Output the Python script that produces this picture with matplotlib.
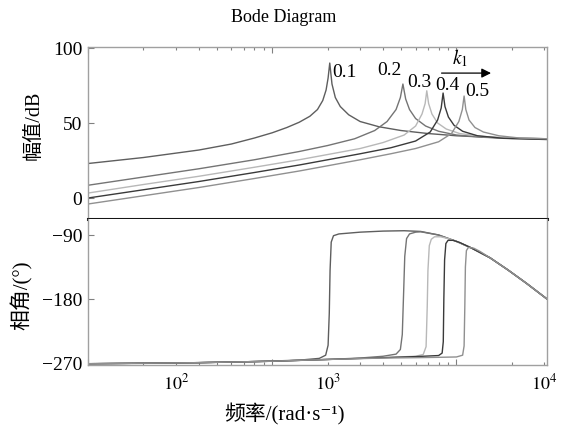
import matplotlib
matplotlib.use("Agg")
import matplotlib.pyplot as plt
from matplotlib.ticker import FixedLocator, NullFormatter, NullLocator

plt.rcParams['font.family'] = ['Liberation Serif', 'Noto Sans CJK SC', 'DejaVu Sans']
plt.rcParams['mathtext.fontset'] = 'stix'
plt.rcParams['axes.unicode_minus'] = True

# ---------------- data ----------------
k_labels = ["0.1", "0.2", "0.3", "0.4", "0.5"]

mag_f_01 = [50, 100, 200, 300, 400, 500, 600, 700, 800, 880, 940, 980, 1005, 1026, 1055, 1100, 1170, 1300, 1500, 1900, 2500, 3500, 5000, 8000, 15500]
mag_v_01 = [23, 27, 32, 36, 40, 43.5, 47, 50.5, 54.5, 59, 65, 72, 80, 90, 76, 67, 61, 55.5, 51, 47.5, 45, 43, 41.5, 40.3, 39.5]

mag_f_02 = [50, 100, 200, 400, 700, 1000, 1400, 1800, 2100, 2350, 2480, 2560, 2650, 2780, 3000, 3400, 4000, 5000, 7000, 10000, 15500]
mag_v_02 = [8.5, 14, 19.5, 25.5, 31, 35, 39.5, 45, 51, 59, 67, 76, 66, 59, 53, 48, 44.5, 42, 40.5, 39.7, 39.2]

mag_f_03 = [50, 100, 200, 400, 700, 1000, 1500, 2000, 2600, 3000, 3250, 3380, 3450, 3530, 3680, 3950, 4400, 5200, 7000, 10000, 15500]
mag_v_03 = [3.3, 9, 14.5, 20.5, 25.5, 29, 33, 37, 42, 48, 56, 63, 71.5, 63, 56, 50, 46, 43, 41, 40, 39.5]

mag_f_04 = [50, 100, 200, 400, 700, 1000, 1500, 2200, 3000, 3600, 3950, 4130, 4230, 4330, 4520, 4850, 5400, 6500, 9000, 15500]
mag_v_04 = [0, 5.5, 11, 17, 22, 25.5, 29.5, 33.5, 38, 44, 52, 60, 70, 61, 54, 48.5, 44.5, 41.5, 39.8, 39]

mag_f_05 = [50, 100, 200, 400, 700, 1000, 1500, 2200, 3000, 4000, 4700, 5150, 5380, 5500, 5620, 5850, 6300, 7000, 8500, 11000, 15500]
mag_v_05 = [-4, 1.5, 7, 13, 18, 21.5, 25.5, 29.5, 33, 37.5, 43, 51, 59, 68, 59, 52, 47, 44, 41.5, 40, 39.5]

ph_f_01 = [50, 100, 200, 400, 700, 900, 975, 1005, 1020, 1030, 1045, 1075, 1150, 1500, 2000, 2600, 3200, 4000, 5000, 6000, 7600, 9500, 12000, 15500]
ph_v_01 = [-271, -270.5, -269.5, -268, -266, -263.5, -259, -245, -200, -140, -100, -91, -88.5, -86, -84.5, -84, -85, -90, -99, -108, -122, -139, -158, -180]

ph_f_02 = [50, 200, 500, 1000, 1500, 2000, 2350, 2480, 2540, 2580, 2620, 2680, 2780, 3000, 3200, 4000, 5000, 6000, 7600, 9500, 12000, 15500]
ph_v_02 = [-271, -269.5, -267.5, -265, -263, -260.5, -257.5, -251, -230, -175, -120, -95, -88.5, -86, -85.5, -90, -99, -108, -122, -139, -158, -180]

ph_f_03 = [50, 200, 500, 1000, 2000, 3000, 3300, 3420, 3470, 3500, 3560, 3650, 3800, 4100, 4500, 5000, 6000, 7600, 9500, 12000, 15500]
ph_v_03 = [-271, -269.5, -267.5, -265, -262.5, -260.5, -258, -247, -190, -140, -105, -96, -92.5, -92.5, -95, -99, -108, -122, -139, -158, -180]

ph_f_04 = [50, 200, 500, 1000, 2000, 3000, 4000, 4180, 4240, 4270, 4310, 4380, 4500, 4800, 5200, 6000, 7600, 9500, 12000, 15500]
ph_v_04 = [-271, -269.5, -267.5, -265, -262.5, -261, -259.5, -256, -240, -180, -125, -102, -97.5, -97.5, -100.5, -108, -122, -139, -158, -180]

ph_f_05 = [50, 200, 500, 1000, 2000, 3000, 4000, 5000, 5400, 5500, 5550, 5590, 5660, 5800, 6200, 6700, 7600, 9500, 12000, 15500]
ph_v_05 = [-271, -269.5, -267.5, -265, -263, -262.5, -262, -261.5, -259, -246, -190, -135, -112, -107.5, -108.5, -113, -122, -139, -158, -180]

peak_label_f = [1240, 2160, 3130, 4440, 6500]
peak_label_db = [84, 84.7, 77.3, 75.3, 71.3]

xtick_pos = [150, 1000, 15000]
xtick_lab = [r"$10^{2}$", r"$10^{3}$", r"$10^{4}$"]
mag_ticks = [0, 50, 100]
ph_ticks = [-90, -180, -270]

mag_f = [mag_f_01, mag_f_02, mag_f_03, mag_f_04, mag_f_05]
mag_v = [mag_v_01, mag_v_02, mag_v_03, mag_v_04, mag_v_05]
ph_f = [ph_f_01, ph_f_02, ph_f_03, ph_f_04, ph_f_05]
ph_v = [ph_v_01, ph_v_02, ph_v_03, ph_v_04, ph_v_05]

# ---------------- style ----------------
colors = ["#5e5e5e", "#747474", "#b8b8b8", "#3a3a3a", "#909090"]
spine_col = "#a0a0a0"

fig = plt.figure(figsize=(5.69, 4.32), dpi=100)
ax1 = fig.add_axes([88/569, 1-219/432, (547-88)/569, (219-47)/432])
ax2 = fig.add_axes([88/569, 1-365/432, (547-88)/569, (365-219)/432])

xmin, xmax = 50, 15500
major_x = [50, 500, 5000]
minor_x = [k*50 for k in range(2, 10)] + [k*500 for k in range(2, 10)] + [k*5000 for k in range(2, 4)]

for ax in (ax1, ax2):
    ax.set_xscale("log")
    ax.set_xlim(xmin, xmax)
    ax.xaxis.set_major_locator(FixedLocator(major_x))
    ax.xaxis.set_minor_locator(FixedLocator(minor_x))
    ax.xaxis.set_major_formatter(NullFormatter())
    ax.xaxis.set_minor_formatter(NullFormatter())
    ax.yaxis.set_minor_locator(NullLocator())
    for s in ax.spines.values():
        s.set_color(spine_col)
        s.set_linewidth(1.0)
    ax.tick_params(axis="both", which="major", direction="in", length=4, width=0.8,
                   color="#808080", labelsize=14, pad=4)
    ax.tick_params(axis="both", which="minor", direction="in", length=2.5, width=0.8,
                   color="#808080")

for f, v, c in zip(mag_f, mag_v, colors):
    ax1.plot(f, v, color=c, lw=1.0)
for f, v, c in zip(ph_f, ph_v, colors):
    ax2.plot(f, v, color=c, lw=1.0)

ax1.set_ylim(-14, 100.7)
ax1.set_yticks(mag_ticks)
ax1.set_yticklabels([str(t) for t in mag_ticks])
ax1.tick_params(axis="x", which="both", top=True, bottom=False)
ax1.spines["bottom"].set_color("#151515")
ax1.spines["bottom"].set_linewidth(2.2)
ax1.spines["bottom"].set_zorder(5)

ax2.set_ylim(-272.8, -67.5)
ax2.set_yticks(ph_ticks)
ax2.set_yticklabels(["\u2212" + str(-t) for t in ph_ticks])
ax2.tick_params(axis="x", which="both", top=False, bottom=True)
ax2.spines["top"].set_visible(False)

sec = ax2.secondary_xaxis("bottom")
sec.set_xticks(xtick_pos, labels=xtick_lab)
sec.xaxis.set_minor_locator(NullLocator())
sec.tick_params(axis="x", length=0, labelsize=13, pad=6)
sec.spines["bottom"].set_visible(False)

# peak labels
for lab, xf, yd in zip(k_labels, peak_label_f, peak_label_db):
    ax1.text(xf, yd, lab, fontsize=14, ha="center", va="center")

# k1 arrow
ax1.annotate("", xy=(7700, 83.3), xytext=(4150, 83.3),
             arrowprops=dict(arrowstyle="-|>", color="black", lw=0.9,
                             mutation_scale=14, shrinkA=0, shrinkB=0))
ax1.text(5250, 93, r"$k_1$", fontsize=14, ha="center", va="center")

fig.text(284/569, 1-17/432, "Bode Diagram", fontsize=13, ha="center", va="center")
fig.text(34/569, 1-125/432, "幅值/dB", fontsize=14.5, rotation=90, ha="center", va="center")
fig.text(22/569, 1-295/432, "相角/(°)", fontsize=15, rotation=90, ha="center", va="center")
fig.text(284/569, 1-414/432, "频率/(rad\u00b7s\u207b\u00b9)", fontsize=15, ha="center", va="center")

fig.savefig("out.png", dpi=100)
